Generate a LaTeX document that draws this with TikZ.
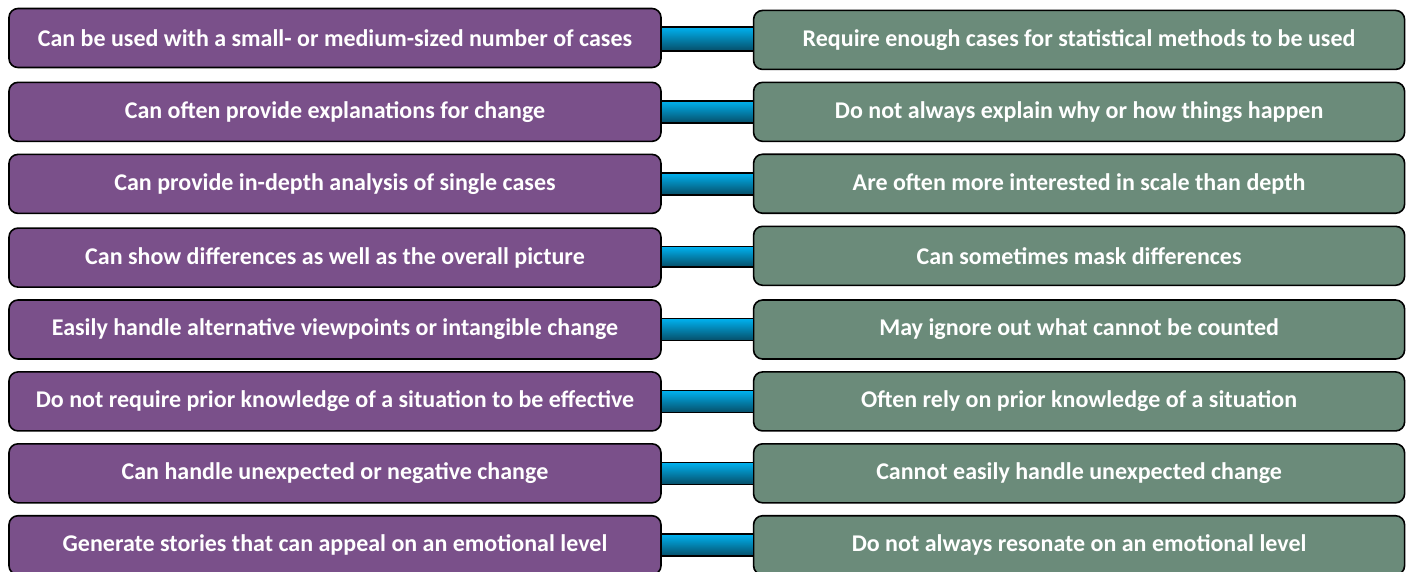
\documentclass[tikz,border=0pt]{standalone}
\usepackage{fontspec}
\setmainfont{Carlito}
\usetikzlibrary{matrix}

\definecolor{probox}{RGB}{122,80,138}
\definecolor{conbox}{RGB}{107,139,122}
\definecolor{linktop}{RGB}{0,178,240}
\definecolor{linkmid}{RGB}{0,160,220}
\definecolor{linkbot}{RGB}{6,78,104}

\tikzset{
  pro/.style={draw=black, line width=1.6pt, rounded corners=9pt, fill=probox,
    text=white, font=\fontsize{24}{28}\selectfont\bfseries,
    minimum width=652pt, minimum height=59pt, inner sep=0pt, outer sep=0pt},
  con/.style={pro, fill=conbox, minimum width=651pt},
  link/.style={draw=black, line width=1.6pt, top color=linktop,
    middle color=linkmid, bottom color=linkbot}
}

\begin{document}
\begin{tikzpicture}[x=1pt,y=-1pt]
\useasboundingbox (0,0) rectangle (1407,571);
\matrix (m) [matrix of nodes, row sep=11.3pt, column sep=91pt, anchor=north west,
  inner sep=0pt, column 1/.style={nodes=pro}, column 2/.style={nodes=con}]
  at (8,7.5)
{
	Can be used with a small- or medium-sized number of cases & Require enough cases for statistical methods to be used \\
	Can often provide explanations for change & Do not always explain why or how things happen \\
	Can provide in-depth analysis of single cases & Are often more interested in scale than depth \\
	Can show differences as well as the overall picture & Can sometimes mask differences \\
	Easily handle alternative viewpoints or intangible change & May ignore out what cannot be counted \\
	Do not require prior knowledge of a situation to be effective & Often rely on prior knowledge of a situation \\
	Can handle unexpected or negative change & Cannot easily handle unexpected change \\
	Generate stories that can appeal on an emotional level & Do not always resonate on an emotional level \\
};
% bars joining each pair
\foreach \r in {1,...,8}
  \path[link] ([yshift=11pt]m-\r-1.east) rectangle ([yshift=-11pt]m-\r-2.west);
\end{tikzpicture}
\end{document}
